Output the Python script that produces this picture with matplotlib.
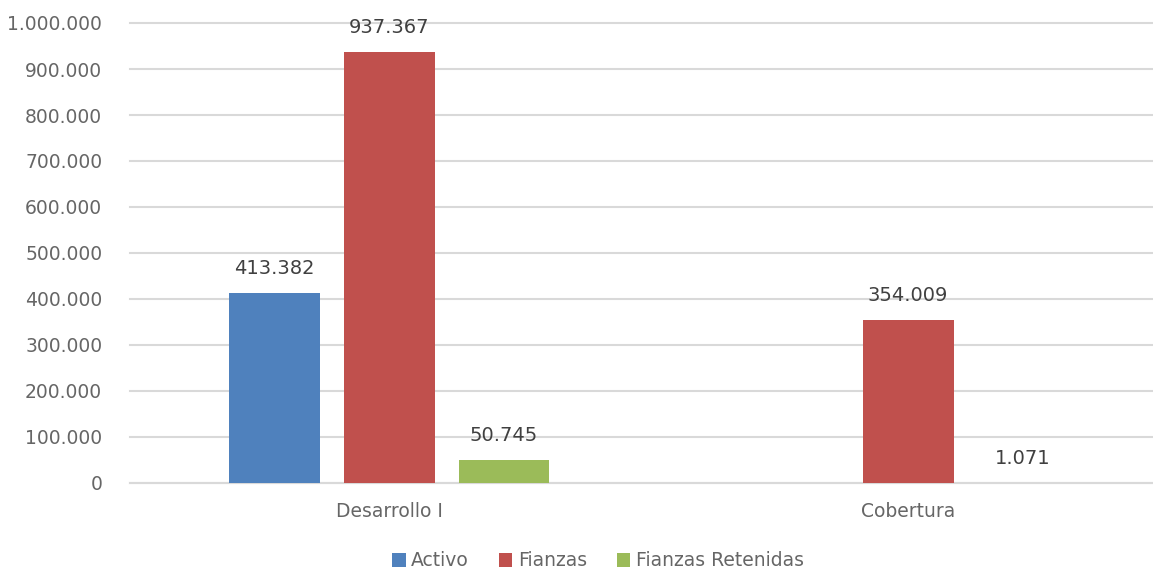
import matplotlib
matplotlib.use("Agg")
import matplotlib.pyplot as plt
import numpy as np

# Data
categories = ["Desarrollo I", "Cobertura"]
series_names = ["Activo", "Fianzas", "Fianzas Retenidas"]
activo = [413382, np.nan]
fianzas = [937367, 354009]
fianzas_retenidas = [50745, 1071]
colors = ["#4F81BD", "#C0504D", "#9BBB59"]

plt.rcParams['font.family'] = ['DejaVu Sans']

fig = plt.figure(figsize=(11.53, 5.69), dpi=100)
ax = fig.add_axes([130 / 1153, 1 - 483 / 569, (1167.5 - 130) / 1153, 460 / 569])

x = np.arange(len(categories))
width = 0.175
offsets = [-0.221, 0.0, 0.221]
all_series = [activo, fianzas, fianzas_retenidas]


def fmt(v):
    return f"{int(round(v)):,}".replace(",", ".")


for vals, off, col, name in zip(all_series, offsets, colors, series_names):
    bars = ax.bar(x + off, vals, width, color=col, label=name, zorder=3)
    for xi, v in zip(x + off, vals):
        if np.isnan(v):
            continue
        ax.annotate(fmt(v), (xi, v), xytext=(0, 17.5), textcoords="offset points",
                    ha="center", va="center", fontsize=14, color="#404040")

ax.set_xlim(-0.5, 1.5)
ax.set_ylim(0, 1000000)
ax.set_yticks(np.arange(0, 1000001, 100000))
ax.set_yticklabels([fmt(v) for v in np.arange(0, 1000001, 100000)])
ax.set_xticks(x)
ax.set_xticklabels(categories)
ax.tick_params(axis="y", length=0, pad=20, labelsize=13.5, labelcolor="#666666")
ax.tick_params(axis="x", length=0, pad=14, labelsize=13.5, labelcolor="#666666")

ax.grid(axis="y", color="#D9D9D9", linewidth=1.5, zorder=0)
for gl in ax.get_ygridlines():
    gl.set_clip_on(False)
for s in ["top", "right", "left"]:
    ax.spines[s].set_visible(False)
ax.spines["bottom"].set_color("#D9D9D9")
ax.spines["bottom"].set_linewidth(1.5)

leg = fig.legend(loc="center", bbox_to_anchor=(598 / 1153, 1 - 561 / 569), ncol=3,
                 frameon=False, fontsize=13.5, handlelength=0.7, handleheight=0.7,
                 handletextpad=0.3, columnspacing=1.6)
for t in leg.get_texts():
    t.set_color("#666666")

fig.savefig("out.png", dpi=100)
